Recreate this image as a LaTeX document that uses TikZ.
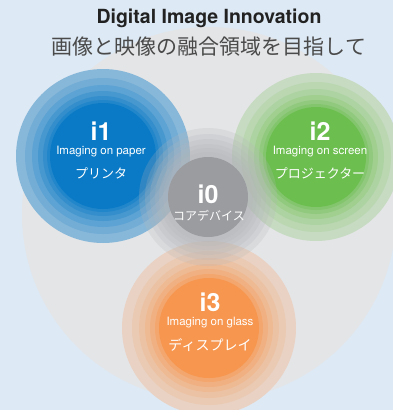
\documentclass[tikz,border=0pt]{standalone}
\usepackage{fontspec}
\setmainfont{TeX Gyre Heros}
\newfontfamily\jp{Noto Sans CJK JP}
\definecolor{bgc}{HTML}{DDE9F4}
\definecolor{bigc}{HTML}{E4E5E7}
\definecolor{bluec}{HTML}{0A7AC6}
\definecolor{greenc}{HTML}{6CBE4F}
\definecolor{orangec}{HTML}{F7964F}
\definecolor{grayc}{HTML}{9B9CA0}
\definecolor{grayring}{HTML}{B4B5B9}
\definecolor{titlec}{HTML}{222222}
\definecolor{subc}{HTML}{4A4A4A}
\tikzset{
  bignum/.style={text=white,font=\fontsize{25}{25}\selectfont\bfseries,anchor=center},
  engl/.style={text=white,font=\fontsize{11.5}{12}\selectfont,anchor=center},
  jlab/.style={text=white,font=\jp\fontsize{13}{13}\selectfont,anchor=center},
}
% #1 center, #2 colour, #3 list of radius/percent, #4 core radius
\newcommand{\ringset}[4]{%
  \foreach \rr/\pp in {#3}{
    \fill[#2!\pp!bigc] #1 circle (\rr);
  }
  \fill[#2] #1 circle (#4);
}
\begin{document}
\begin{tikzpicture}[x=1pt,y=-1pt]
\fill[bgc] (0,0) rectangle (393,410);
\useasboundingbox (0,0) rectangle (393,410);
\fill[bigc] (209,214) circle (187);
\ringset{(103,156)}{bluec}{87/42,78/52,71/62,65/72,60/81,56/89}{53}
\ringset{(316,157)}{greenc}{84/25,75/35,68/45,62/57,57/69,53/81}{50}
\ringset{(209,328)}{orangec}{87/24,77/34,70/44,64/55,59/67,54/80}{50}
\foreach \rr in {69,63,58,53,49,45}{
  \fill[grayring,fill opacity=0.22] (208,197) circle (\rr);
}
\fill[grayc] (208,197) circle (40);
\node (title) at (209,18) {\fontsize{19.5}{20}\selectfont\bfseries\color{titlec}Digital Image Innovation};
\node (subtitle) at (209,47) {\jp\fontsize{21}{21}\selectfont\color{subc}画像と映像の融合領域を目指して};
\node[bignum] (n1) at (101,131) {i1};
\node[engl] (e1) at (101,152) {Imaging on paper};
\node[jlab] (j1) at (101,173) {プリンタ};
\node[bignum] (n2) at (320,131) {i2};
\node[engl] (e2) at (320,152) {Imaging on screen};
\node[jlab] (j2) at (320,173) {プロジェクター};
\node[bignum] (n0) at (208,194) {i0};
\node[jlab,font=\jp\fontsize{12}{12}\selectfont] (j0) at (209,216) {コアデバイス};
\node[bignum] (n3) at (210,302) {i3};
\node[engl] (e3) at (210,323) {Imaging on glass};
\node[jlab,font=\jp\fontsize{14}{14}\selectfont] (j3) at (210,345) {ディスプレイ};
\end{tikzpicture}
\end{document}
